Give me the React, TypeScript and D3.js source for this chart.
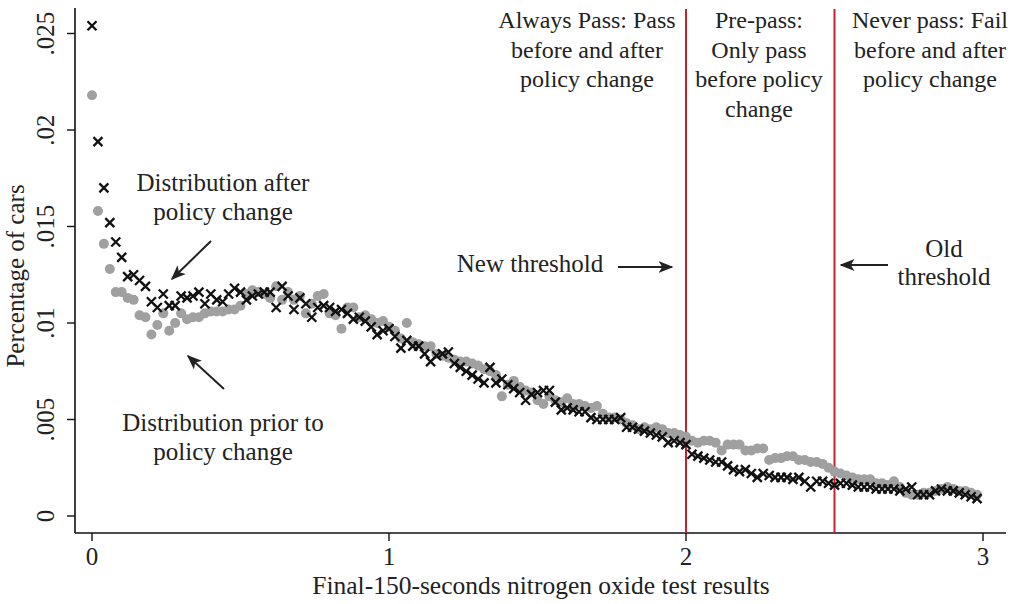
import React from "react";
import * as d3 from "d3";

// share of cars per 0.02-wide bin of final-150-seconds NOx results
const before: number[] = [
  0.0218, 0.0158, 0.0141, 0.0128, 0.0116, 0.0116, 0.0113, 0.0112, 0.0104, 0.0103,
  0.0094, 0.0099, 0.0105, 0.0096, 0.01, 0.0105, 0.0102, 0.0103, 0.0103, 0.0105,
  0.0106, 0.0106, 0.0106, 0.0107, 0.0107, 0.0109, 0.0115, 0.0117, 0.0116, 0.0115,
  0.0113, 0.0119, 0.0112, 0.0116, 0.0112, 0.0114, 0.0105, 0.011, 0.0114, 0.0115,
  0.0105, 0.0104, 0.0097, 0.0108, 0.0108, 0.0103, 0.0104, 0.0102, 0.01, 0.0101,
  0.0098, 0.0096, 0.0092, 0.01, 0.009, 0.0089, 0.0088, 0.0088, 0.0084, 0.0083,
  0.0082, 0.0081, 0.008, 0.008, 0.0079, 0.0078, 0.0076, 0.0075, 0.0073, 0.0062,
  0.0068, 0.007, 0.0067, 0.0065, 0.0064, 0.006, 0.0058, 0.0062, 0.006, 0.0059,
  0.0061, 0.0058, 0.0058, 0.0057, 0.0056, 0.0057, 0.0053, 0.0051, 0.0051, 0.005,
  0.0048, 0.0047, 0.0045, 0.0046, 0.0045, 0.0046, 0.0045, 0.0043, 0.0043, 0.0042,
  0.0041, 0.0039, 0.0038, 0.0039, 0.0039, 0.0038, 0.0034, 0.0037, 0.0037, 0.0037,
  0.0034, 0.0034, 0.0035, 0.0035, 0.0029, 0.003, 0.003, 0.0031, 0.0031, 0.0029,
  0.0029, 0.0028, 0.0028, 0.0027, 0.0025, 0.0023, 0.0022, 0.0021, 0.002, 0.0019,
  0.0019, 0.0019, 0.0017, 0.0017, 0.0016, 0.0018, 0.0015, 0.0012, 0.0011, 0.0011,
  0.0012, 0.0012, 0.0013, 0.0014, 0.0015, 0.0014, 0.0013, 0.0013, 0.0012, 0.0011,
];

const after: number[] = [
  0.0254, 0.0194, 0.017, 0.0152, 0.0142, 0.0134, 0.0124, 0.0125, 0.0122, 0.0119,
  0.0111, 0.0108, 0.0115, 0.0109, 0.0109, 0.0114, 0.0113, 0.0114, 0.0116, 0.011,
  0.0115, 0.0112, 0.0111, 0.0115, 0.0118, 0.0116, 0.0112, 0.0114, 0.0115, 0.0116,
  0.0116, 0.0108, 0.0119, 0.0114, 0.0107, 0.0113, 0.011, 0.0103, 0.0108, 0.0109,
  0.0108, 0.0106, 0.0107, 0.0105, 0.0102, 0.0103, 0.0101, 0.0098, 0.0094, 0.0096,
  0.0097, 0.0093, 0.0087, 0.0091, 0.0088, 0.0088, 0.0084, 0.008, 0.0083, 0.0084,
  0.0085, 0.0079, 0.0077, 0.0075, 0.0073, 0.0071, 0.0069, 0.0077, 0.0069, 0.0071,
  0.0068, 0.0066, 0.0064, 0.006, 0.0063, 0.0064, 0.0065, 0.0065, 0.0059, 0.0055,
  0.0056, 0.0055, 0.0054, 0.0054, 0.0051, 0.005, 0.005, 0.005, 0.005, 0.0051,
  0.0046, 0.0046, 0.0045, 0.0044, 0.0043, 0.0042, 0.0041, 0.0038, 0.0039, 0.0038,
  0.0037, 0.0032, 0.0031, 0.003, 0.0029, 0.0028, 0.0028, 0.0026, 0.0024, 0.0023,
  0.0024, 0.0022, 0.002, 0.0022, 0.0021, 0.002, 0.002, 0.002, 0.0019, 0.002,
  0.0018, 0.0015, 0.0018, 0.0018, 0.0017, 0.0016, 0.0017, 0.0017, 0.0016, 0.0015,
  0.0015, 0.0015, 0.0014, 0.0014, 0.0014, 0.0014, 0.0013, 0.0014, 0.0015, 0.0011,
  0.0011, 0.0011, 0.0013, 0.0014, 0.0013, 0.0013, 0.0012, 0.0011, 0.001, 0.0009,
];

const binWidth = 0.02;
const xTicks = [0, 1, 2, 3];
const yTicks = [0, 0.005, 0.01, 0.015, 0.02, 0.025];
const yTickLabels = ["0", ".005", ".01", ".015", ".02", ".025"];
const thresholds = [2, 2.5];

const regionLabels = [
  { x: 587, lines: ["Always Pass: Pass", "before and after", "policy change"] },
  { x: 759, lines: ["Pre-pass:", "Only pass", "before policy", "change"] },
  { x: 930, lines: ["Never pass: Fail", "before and after", "policy change"] },
];

const width = 1011;
const height = 604;
const font = "'Liberation Serif', 'Times New Roman', serif";
const fs = 25;
const ink = "#222";
const axisBottom = 533;
const axisLeft = 75;

const x = d3.scaleLinear().domain([0, 3]).range([92, 983]);
const y = d3.scaleLinear().domain([0, 0.025]).range([516, 33.5]);

const Arrow = ({ x1, y1, x2, y2 }: { x1: number; y1: number; x2: number; y2: number }) => (
  <line x1={x1} y1={y1} x2={x2} y2={y2} stroke={ink} strokeWidth={2} markerEnd="url(#head)" />
);

const Label = ({ tx, ty, text, size = fs }: { tx: number; ty: number; text: string; size?: number }) => (
  <text x={tx} y={ty} textAnchor="middle" fontSize={size} fill={ink}>
    {text}
  </text>
);

const App = () => {
  const s = 4.5;
  return (
    <svg
      width={width}
      height={height}
      style={{ position: "absolute", left: 0, top: 0, fontFamily: font, background: "white" }}
    >
      <defs>
        <marker
          id="head"
          viewBox="0 0 10 10"
          refX={9}
          refY={5}
          markerWidth={7.5}
          markerHeight={7.5}
          markerUnits="strokeWidth"
          orient="auto"
        >
          <path d="M0,1 L10,5 L0,9 L2.5,5 Z" fill={ink} />
        </marker>
      </defs>
      <rect width={width} height={height} fill="white" />

      {/* axes, left and bottom only */}
      <line x1={axisLeft} x2={1006} y1={axisBottom} y2={axisBottom} stroke="#111" strokeWidth={1.6} />
      <line x1={axisLeft} x2={axisLeft} y1={8} y2={axisBottom} stroke="#111" strokeWidth={1.6} />

      {xTicks.map((d) => (
        <g key={"x" + d}>
          <line x1={x(d)} x2={x(d)} y1={axisBottom} y2={axisBottom + 8} stroke="#111" strokeWidth={1.4} />
          <text x={x(d)} y={565} textAnchor="middle" fontSize={fs} fill={ink}>
            {d}
          </text>
        </g>
      ))}
      {yTicks.map((d, i) => (
        <g key={"y" + i}>
          <line x1={axisLeft - 8} x2={axisLeft} y1={y(d)} y2={y(d)} stroke="#111" strokeWidth={1.4} />
          <text
            transform={`translate(54,${y(d)}) rotate(-90)`}
            textAnchor="middle"
            fontSize={fs}
            fill={ink}
          >
            {yTickLabels[i]}
          </text>
        </g>
      ))}

      <text x={541} y={594} textAnchor="middle" fontSize={25.5} fill={ink}>
        Final-150-seconds nitrogen oxide test results
      </text>
      <text transform="translate(24,276) rotate(-90)" textAnchor="middle" fontSize={fs} fill={ink}>
        Percentage of cars
      </text>

      {thresholds.map((d) => (
        <line key={"t" + d} x1={x(d)} x2={x(d)} y1={9} y2={axisBottom} stroke="#c8202f" strokeWidth={2} />
      ))}

      {/* before: gray dots */}
      {before.map((d, i) => (
        <circle key={"b" + i} cx={x(i * binWidth)} cy={y(d)} r={5} fill="#a0a0a0" />
      ))}
      {/* after: black crosses */}
      {after.map((d, i) => {
        const cx = x(i * binWidth);
        const cy = y(d);
        return (
          <path
            key={"a" + i}
            d={`M${cx - s},${cy - s}L${cx + s},${cy + s}M${cx - s},${cy + s}L${cx + s},${cy - s}`}
            stroke="#111"
            strokeWidth={2.3}
            fill="none"
          />
        );
      })}

      {regionLabels.map((r) =>
        r.lines.map((line, i) => (
          <Label key={r.x + "-" + i} tx={r.x} ty={28 + i * 29.5} text={line} size={24} />
        ))
      )}

      <Label tx={223} ty={191} text="Distribution after" />
      <Label tx={223} ty={220} text="policy change" />
      <Arrow x1={211} y1={241} x2={172} y2={279} />

      <Label tx={223} ty={431} text="Distribution prior to" />
      <Label tx={223} ty={460} text="policy change" />
      <Arrow x1={224} y1={389} x2={188} y2={356} />

      <Label tx={530} ty={272} text="New threshold" />
      <Arrow x1={618} y1={267} x2={672} y2={267} />

      <Label tx={944} ty={257} text="Old" />
      <Label tx={944} ty={285} text="threshold" />
      <Arrow x1={888} y1={265} x2={841} y2={265} />
    </svg>
  );
};

export default App;
